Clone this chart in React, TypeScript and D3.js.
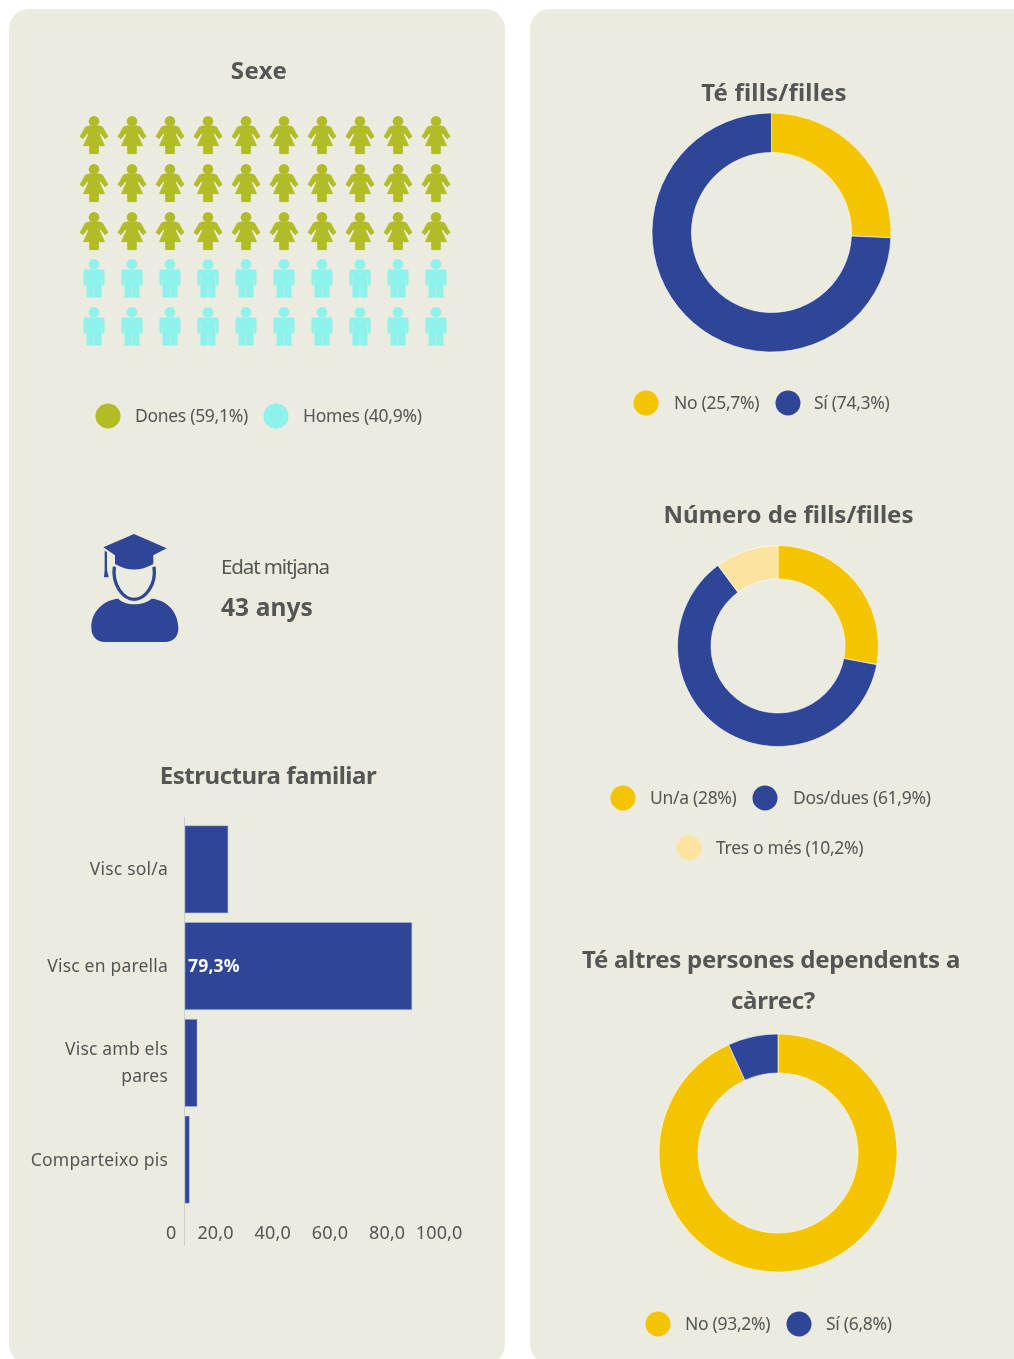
import React, { useEffect, useRef } from "react";
import * as d3 from "d3";

const sexLabels = ["Dones", "Homes"];
const sexValues = [59.1, 40.9];

const familyLabels = [["Visc sol/a"], ["Visc en parella"], ["Visc amb els", "pares"], ["Comparteixo pis"]];
const familyValues = [15, 79.3, 4.2, 1.5];
const familyTicks = [0, 20, 40, 60, 80, 100];

const kidsLabels = ["No", "Sí"];
const kidsValues = [25.7, 74.3];

const numKidsLabels = ["Un/a", "Dos/dues", "Tres o més"];
const numKidsValues = [28, 61.9, 10.2];

const dependentsLabels = ["No", "Sí"];
const dependentsValues = [93.2, 6.8];

const BLUE = "#2f4598";
const YELLOW = "#f5c400";
const PALE = "#fde3a0";
const GREEN = "#b2bc26";
const CYAN = "#8ef2ec";
const PANEL = "#ebebdf";
const TEXT = "#555555";
const FONT = "'Noto Sans', sans-serif";

const WOMAN =
  "M-5.5,-9 L5.5,-9 L8.5,-8 L14,1.5 L11,3.8 L6.5,-2 L5.5,-0.5 L10.5,10.7 L4.4,10.7 L4.4,18.7 L-4.4,18.7 L-4.4,10.7 L-10.5,10.7 L-5.5,-0.5 L-6.5,-2 L-11,3.8 L-14,1.5 L-8.5,-8 Z";
const MAN =
  "M-9,-9.5 L9,-9.5 Q10.5,-9.5 10.5,-8 L10.5,6.5 L7.8,6.5 L7.8,-3 L7.5,-3 L7.5,18.5 L0.2,18.5 L0.2,6 L-0.2,6 L-0.2,18.5 L-7.5,18.5 L-7.5,-3 L-7.8,-3 L-7.8,6.5 L-10.5,6.5 L-10.5,-8 Q-10.5,-9.5 -9,-9.5 Z";

const pct = (v: number) => String(v).replace(".", ",") + "%";

function Title({ x, y, spacing = 0, children }: any) {
  return (
    <text x={x} y={y} textAnchor="middle" fontSize={24} fontWeight={700} fill={TEXT} fontFamily={FONT} letterSpacing={spacing}>
      {children}
    </text>
  );
}

function LegendItem({ cx, cy, textX, color, children }: any) {
  return (
    <g>
      <circle cx={cx} cy={cy} r={12.5} fill={color} />
      <text x={textX} y={cy + 6} fontSize={17.5} fill={TEXT} fontFamily={FONT} letterSpacing={-0.3}>
        {children}
      </text>
    </g>
  );
}

function Donut({ cx, cy, outer, inner, values, colors }: any) {
  const pie = d3.pie<number>().sort(null)(values);
  const arc = d3.arc<d3.PieArcDatum<number>>().innerRadius(inner).outerRadius(outer);
  return (
    <g transform={`translate(${cx},${cy})`}>
      {pie.map((d, i) => (
        <path key={i} d={arc(d) || ""} fill={colors[i]} stroke="#ffffff" strokeWidth={0.6} />
      ))}
    </g>
  );
}

function People() {
  const x = d3.scalePoint<number>().domain(d3.range(10)).range([94, 436]);
  const y = d3.scalePoint<number>().domain(d3.range(5)).range([135, 327]);
  const women = Math.round(sexValues[0] / 2);
  return (
    <g>
      {d3.range(50).map((i) => {
        const isWoman = i < women;
        const col = i % 10;
        const row = Math.floor(i / 10);
        return (
          <g key={i} transform={`translate(${x(col)},${y(row)})`} fill={isWoman ? GREEN : CYAN}>
            <circle cx={0} cy={isWoman ? -13.8 : -14.8} r={5.3} />
            {isWoman ? (
              <path d={WOMAN} stroke={GREEN} strokeWidth={0.8} strokeLinejoin="round" />
            ) : (
              <path d={MAN} />
            )}
          </g>
        );
      })}
    </g>
  );
}

function GradIcon() {
  return (
    <g transform="translate(70,520) scale(0.3333)" fill={BLUE}>
      <path d="M100,82 L192,42 L290,85 L250,106 L250,132 Q192,165 135,132 L135,106 Z" />
      <path d="M104,92 L111,96 L111,150 L116,172 L102,172 L104,150 Z" />
      <path d="M133,140 C126,195 160,238 192,238 C225,238 260,195 252,140" fill="none" stroke={BLUE} strokeWidth={10} />
      <path d="M145,236 C165,258 220,258 245,236 C290,240 325,275 325,325 C325,350 310,366 285,366 L105,366 C80,366 64,350 64,322 C64,275 100,240 145,236 Z" />
    </g>
  );
}

function FamilyBars() {
  const axisRef = useRef<SVGGElement>(null);
  const x = d3.scaleLinear().domain([0, 100]).range([185, 471]);
  const y = d3.scaleBand<number>().domain(d3.range(familyValues.length)).range([821, 1208]).paddingInner(0.1).paddingOuter(0.05);

  useEffect(() => {
    const axis = d3
      .axisBottom(x)
      .tickValues(familyTicks)
      .tickSize(0)
      .tickFormat((v: any) => (v === 0 ? "0" : d3.format(".1f")(v).replace(".", ",")));
    const g = d3.select(axisRef.current);
    g.selectAll("*").remove();
    g.call(axis as any);
    g.select(".domain").remove();
    g.selectAll("text")
      .attr("text-anchor", "end")
      .attr("dx", -9)
      .attr("y", 0)
      .attr("dy", 0)
      .attr("fill", TEXT)
      .attr("font-size", 18)
      .attr("letter-spacing", 0.15)
      .attr("font-family", FONT);
  }, []);

  return (
    <g>
      <line x1={184.5} x2={184.5} y1={817} y2={1246} stroke="#cfcfc8" strokeWidth={1} />
      {familyValues.map((v, i) => (
        <rect key={i} x={x(0)} y={y(i)} width={x(v) - x(0)} height={y.bandwidth()} fill={BLUE} stroke="#aab3d0" strokeOpacity={0.6} strokeWidth={0.8} />
      ))}
      {familyLabels.map((lines, i) => {
        const mid = (y(i) as number) + y.bandwidth() / 2;
        const lineH = 27;
        const start = mid + 6 - ((lines.length - 1) * lineH) / 2;
        return lines.map((t, j) => (
          <text key={t} x={168} y={start + j * lineH} textAnchor="end" fontSize={17.5} fill={TEXT} fontFamily={FONT} letterSpacing={0.2}>
            {t}
          </text>
        ));
      })}
      <text x={188} y={972} fontSize={17.5} fontWeight={700} fill="#ffffff" fontFamily={FONT} letterSpacing={0.2}>
        {pct(familyValues[1])}
      </text>
      <g ref={axisRef} transform="translate(0,1239)" />
    </g>
  );
}

export default function App() {
  return (
    <div style={{ position: "absolute", left: 0, top: 0 }}>
      <svg width={1014} height={1359} style={{ display: "block", filter: "blur(0.6px)" }}>
        <rect width={1014} height={1359} fill="#ffffff" />
        <rect x={9} y={9} width={496} height={1355} rx={20} fill={PANEL} />
        <rect x={530} y={9} width={520} height={1355} rx={20} fill={PANEL} />

        <Title x={259} y={79} spacing={0.4}>Sexe</Title>
        <People />
        <LegendItem cx={108} cy={416} textX={135} color={GREEN}>{`${sexLabels[0]} (${pct(sexValues[0])})`}</LegendItem>
        <LegendItem cx={276} cy={416} textX={303} color={CYAN}>{`${sexLabels[1]} (${pct(sexValues[1])})`}</LegendItem>

        <GradIcon />
        <text x={221} y={574} fontSize={20.5} fill={TEXT} fontFamily={FONT} letterSpacing={-1.1}>Edat mitjana</text>
        <text x={221} y={616} fontSize={24.5} fontWeight={700} fill={TEXT} fontFamily={FONT} letterSpacing={0.1}>43 anys</text>

        <Title x={268} y={784} spacing={-0.45}>Estructura familiar</Title>
        <FamilyBars />

        <Title x={774} y={101} spacing={0.2}>Té fills/filles</Title>
        <Donut cx={771.5} cy={232.5} outer={119.5} inner={80} values={kidsValues} colors={[YELLOW, BLUE]} />
        <LegendItem cx={646} cy={403} textX={674} color={YELLOW}>{`${kidsLabels[0]} (${pct(kidsValues[0])})`}</LegendItem>
        <LegendItem cx={788} cy={403} textX={814} color={BLUE}>{`${kidsLabels[1]} (${pct(kidsValues[1])})`}</LegendItem>

        <Title x={788.5} y={523} spacing={0}>Número de fills/filles</Title>
        <Donut cx={778} cy={646} outer={100.5} inner={67} values={numKidsValues} colors={[YELLOW, BLUE, PALE]} />
        <LegendItem cx={623} cy={798} textX={650} color={YELLOW}>{`${numKidsLabels[0]} (${pct(numKidsValues[0])})`}</LegendItem>
        <LegendItem cx={765} cy={798} textX={793} color={BLUE}>{`${numKidsLabels[1]} (${pct(numKidsValues[1])})`}</LegendItem>
        <LegendItem cx={689} cy={848} textX={716} color={PALE}>{`${numKidsLabels[2]} (${pct(numKidsValues[2])})`}</LegendItem>

        <Title x={771} y={968} spacing={-0.25}>Té altres persones dependents a</Title>
        <Title x={773} y={1009} spacing={-0.25}>càrrec?</Title>
        <Donut cx={778} cy={1153} outer={119} inner={80} values={dependentsValues} colors={[YELLOW, BLUE]} />
        <LegendItem cx={658} cy={1324} textX={685} color={YELLOW}>{`${dependentsLabels[0]} (${pct(dependentsValues[0])})`}</LegendItem>
        <LegendItem cx={799} cy={1324} textX={826} color={BLUE}>{`${dependentsLabels[1]} (${pct(dependentsValues[1])})`}</LegendItem>
      </svg>
    </div>
  );
}
